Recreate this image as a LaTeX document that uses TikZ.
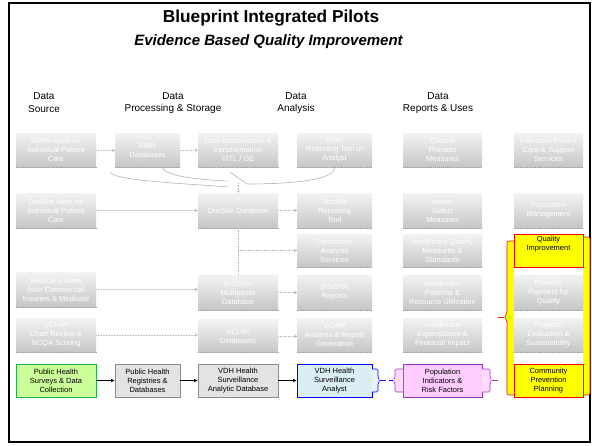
\documentclass[tikz,border=0pt]{standalone}
\usepackage{fontspec}
\setmainfont{Liberation Sans}
\usetikzlibrary{arrows.meta}
\definecolor{fadetop}{HTML}{F3F3F3}
\definecolor{fadebot}{HTML}{C6C6C6}
\definecolor{surveyfill}{HTML}{CCFF99}
\definecolor{surveyline}{HTML}{22B04A}
\definecolor{regfill}{HTML}{E3E3E3}
\definecolor{regline}{HTML}{8C8C8C}
\definecolor{analystfill}{HTML}{DAEEF3}
\definecolor{analystline}{HTML}{0000FF}
\definecolor{popfill}{HTML}{FFCCFF}
\definecolor{popline}{HTML}{9933CC}
\definecolor{planfill}{HTML}{FFFF00}
\definecolor{planline}{HTML}{FF0000}

\begin{document}
\begin{tikzpicture}[x=1pt,y=-1pt]
\tikzstyle{every node}+=[inner sep=0pt]
\tikzstyle{boxtext}=[font=\fontsize{7.5}{9}\selectfont, align=center]
\tikzstyle{faded}=[boxtext, top color=fadetop, bottom color=fadebot, text=white]
\tikzstyle{fadeline}=[gray!55, densely dotted, line width=0.6pt]
\tikzstyle{fadearrow}=[fadeline, -{Straight Barb[length=2pt,width=3pt]}]
\tikzstyle{flowarrow}=[black, line width=0.5pt, -{Latex[length=3.5pt,width=3.5pt]}]
\tikzstyle{colA}=[minimum width=80pt]
\tikzstyle{colB}=[minimum width=65pt]
\tikzstyle{colC}=[minimum width=80pt]
\tikzstyle{colD}=[minimum width=75pt]
\tikzstyle{colE}=[minimum width=79pt]
\tikzstyle{colF}=[minimum width=69pt]
\useasboundingbox (0,0) rectangle (592,445);
\draw [black, line width=2pt] (9,3) rectangle (590,442);
% titles
\node (title) at (271,18) {\fontsize{17.3}{20}\selectfont\bfseries Blueprint Integrated Pilots};
\node (subtitle) at (268.5,42) {\fontsize{15}{18}\selectfont\bfseries\itshape Evidence Based Quality Improvement};
\node [align=center, font=\fontsize{10}{12.8}\selectfont] (hsource) at (44,103) {Data\\Source};
\node [align=center, font=\fontsize{10}{12.8}\selectfont] (hstore) at (173,103) {Data\\Processing \& Storage};
\node [align=center, font=\fontsize{10}{12.8}\selectfont] (hanalysis) at (296,103) {Data\\Analysis};
\node [align=center, font=\fontsize{10}{12.8}\selectfont] (huses) at (438,103) {Data\\Reports \& Uses};
% yellow brackets round the uses column
\draw [planline, fill=planfill, line width=0.6pt, rounded corners=2pt] (514,241) -- (507,241) -- (507,314) -- (504,317) -- (507,320) -- (507,395) -- (514,395);
\draw [planline, fill=planfill, line width=0.6pt, rounded corners=2pt] (583,237) -- (590,237) -- (590,395) -- (583,395);
\coordinate (yellowtip) at (498,317);
\draw [planline, line width=0.6pt] (504,317) -- (yellowtip);
% row 1
\node [faded, colA, minimum height=34pt] (emrsrc) at (56,150) {EMRs used for\\Individual Patient\\Care};
\node [faded, colB, minimum height=34pt] (emrdb) at (147.5,150) {EMR\\Databases};
\node [faded, colC, minimum height=34pt] (vitl) at (238,150) {Data transmission \&\\transformation\\VITL / GE};
\node [faded, colD, minimum height=34pt] (emrtool) at (334.5,150) {EMR\\Reporting Tool or\\Analyst};
\node [faded, colE, minimum height=34pt] (clinical) at (442.5,150) {Clinical\\Process\\Measures};
\node [faded, colF, minimum height=34pt] (indcare) at (548.5,150) {Individual Patient\\Care \& Support\\Services};
% row 2
\node [faded, colA, minimum height=35pt] (docsrc) at (56,210.5) {DocSite used for\\Individual Patient\\Care};
\node [faded, colC, minimum height=35pt] (docdb) at (238,210.5) {DocSite Database};
\node [faded, colD, minimum height=35pt] (doctool) at (334.5,210.5) {DocSite\\Reporting\\Tool};
\node [faded, colE, minimum height=35pt] (healthstat) at (442.5,210.5) {Health\\Status\\Measures};
\node [faded, colF, minimum height=35pt] (popmgmt) at (548.5,210.5) {Population\\Management};
% row 3
\node [faded, colD, minimum height=33pt] (contracted) at (334.5,250.5) {Contracted\\Analysis\\Services};
\node [faded, colE, minimum height=33pt] (hcquality) at (442.5,250.5) {Healthcare Quality\\Measures \&\\Standards};
\node [boxtext, colF, minimum height=33pt, fill=planfill, draw=planline, line width=0.6pt] (qualimp) at (548.5,250.5) {Quality\\Improvement\\[6pt]};
% row 4
\node [faded, colA, minimum height=35pt] (claims) at (56,289.5) {Medical Claims\\from Commercial\\Insurers \& Medicaid};
\node [faded, colC, minimum height=35pt] (bischadb) at (238,292.5) {BISCHA\\Multipayer\\Database};
\node [faded, colD, minimum height=35pt] (bischarep) at (334.5,292.5) {BISCHA\\Reports};
\node [faded, colE, minimum height=35pt] (patterns) at (442.5,292.5) {Healthcare\\Patterns \&\\Resource Utilization};
\node [faded, colF, minimum height=35pt] (payment) at (548.5,292.5) {Provider\\Payment for\\Quality};
% row 5
\node [faded, colA, minimum height=34pt] (vchipsrc) at (56,335) {VCHIP\\Chart Review \&\\NCQA Scoring};
\node [faded, colC, minimum height=33pt] (vchipdb) at (238,336) {VCHIP\\Databases};
\node [faded, colD, minimum height=34pt] (vchiprep) at (334.5,335) {VCHIP\\Analysis \& Report\\Generation};
\node [faded, colE, minimum height=34pt] (expend) at (442.5,335) {Healthcare\\Expenditures \&\\Financial Impact};
\node [faded, colF, minimum height=34pt] (progeval) at (548.5,335) {Program\\Evaluation \&\\Sustainability};
\foreach \n in {emrsrc,emrdb,vitl,emrtool,clinical,indcare,docsrc,docdb,doctool,healthstat,popmgmt,contracted,hcquality,claims,bischadb,bischarep,patterns,payment,vchipsrc,vchipdb,vchiprep,expend,progeval}
  \draw [gray!75, densely dotted, line width=0.9pt] (\n.south west) -- (\n.south east);
% row 6
\node [boxtext, colA, minimum height=33pt, fill=surveyfill, draw=surveyline, line width=0.6pt] (phsurvey) at (56,380.5) {Public Health\\Surveys \& Data\\Collection};
\node [boxtext, colB, minimum height=33pt, fill=regfill, draw=regline, line width=0.6pt] (phreg) at (147.5,380.5) {Public Health\\Registries \&\\Databases};
\node [boxtext, colC, minimum height=33pt, fill=regfill, draw=regline, line width=0.6pt] (vdhdb) at (238,380.5) {VDH Health\\Surveillance\\Analytic Database};
\node [boxtext, colD, minimum height=33pt, fill=analystfill, draw=analystline, line width=0.6pt] (vdhanalyst) at (334.5,380.5) {VDH Health\\Surveillance\\Analyst};
\node [boxtext, colE, minimum height=33pt, fill=popfill, draw=popline, line width=0.6pt] (popind) at (442.5,380.5) {Population\\Indicators \&\\Risk Factors};
\node [boxtext, colF, minimum height=33pt, fill=planfill, draw=planline, line width=0.6pt] (commprev) at (548.5,380.5) {Community\\Prevention\\Planning};
% small brackets on the analyst and indicator boxes
\draw [analystline, fill=analystfill!70, line width=0.6pt, rounded corners=1.5pt] (372,369) -- (378,369) -- (378,378) -- (380,380.5) -- (378,383) -- (378,392) -- (372,392);
\draw [popline, fill=popfill!70, line width=0.6pt, rounded corners=1.5pt] (403,369) -- (395,369) -- (395,378) -- (393,380.5) -- (395,383) -- (395,392) -- (403,392);
\draw [popline, fill=popfill!70, line width=0.6pt, rounded corners=1.5pt] (482,369) -- (490,369) -- (490,378) -- (492,380.5) -- (490,383) -- (490,392) -- (482,392);
\coordinate (bluetip) at (380,380.5);
\coordinate (pinktip) at (393,380.5);
\coordinate (pinkout) at (492,380.5);
\coordinate (pinkend) at (498,380.5);
\draw [analystline, line width=0.8pt, dash pattern=on 6pt off 3pt on 4pt off 3pt] (bluetip) -- (pinktip);
\draw [popline, line width=0.8pt] (pinkout) -- (pinkend);
% faded connectors
\draw [fadearrow] (emrsrc) -- (emrdb);
\draw [fadearrow] (emrdb) -- (vitl);
\draw [fadearrow] (docsrc) -- (docdb);
\draw [fadearrow] (docdb) -- (doctool);
\draw [fadearrow] (claims.east) -- (claims.east -| bischadb.west);
\draw [fadearrow] (bischadb) -- (bischarep);
\draw [fadearrow] (vchipsrc.east) -- (vchipsrc.east -| vchipdb.west);
\draw [fadearrow] (vchipdb.east) -- (vchipdb.east -| vchiprep.west);
\draw [fadeline] (docdb.south) -- (bischadb.north);
\coordinate (branch) at (docdb.south |- contracted.west);
\draw [fadearrow] (branch) -- (contracted.west);
% merging curves under row 1
\coordinate (mergeleft) at (110,172);
\coordinate (mergemid) at (163,168);
\coordinate (mergepeak) at (230,172);
\coordinate (mergedown) at (238,183);
\draw [gray!60, line width=0.6pt] (mergeleft) .. controls (112,181) and (195,184) .. (228,187);
\draw [gray!60, line width=0.6pt] (mergemid) .. controls (166,177) and (205,180) .. (228,181);
\draw [gray!60, line width=0.6pt] (mergepeak) -- (247,184) .. controls (285,184) and (336,181) .. (emrtool.south);
\draw [fadearrow] (mergedown) -- (docdb.north);
% flow of the public health row
\draw [flowarrow] (phsurvey) -- (phreg);
\draw [flowarrow] (phreg) -- (vdhdb);
\draw [flowarrow] (vdhdb) -- (vdhanalyst);
\end{tikzpicture}
\end{document}
